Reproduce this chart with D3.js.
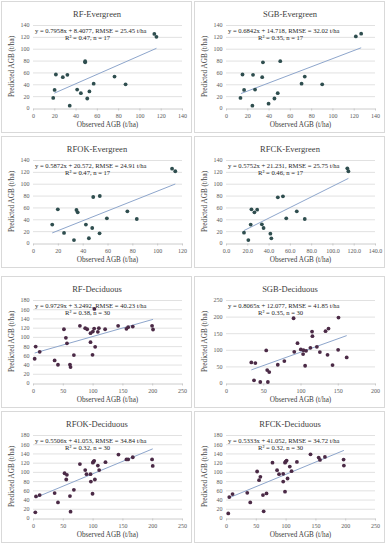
<!DOCTYPE html>
<html><head><meta charset="utf-8">
<script src="https://cdn.jsdelivr.net/npm/d3@7"></script>
<style>body{margin:0;background:#fff}svg{display:block}</style></head>
<body><svg id="c" width="387" height="550"></svg>
<script>
// ---------- data ----------
const titles = ["RF-Evergreen","SGB-Evergreen","RFOK-Evergreen","RFCK-Evergreen",
                "RF-Deciduous","SGB-Deciduous","RFOK-Deciduous","RFCK-Deciduous"];
const equations = [
  "y = 0.7958x + 8.4077, RMSE = 25.45 t/ha",
  "y = 0.6842x + 14.718, RMSE = 32.02 t/ha",
  "y = 0.5872x + 20.572, RMSE = 24.91 t/ha",
  "y = 0.5752x + 21.231, RMSE = 25.75 t/ha",
  "y = 0.9729x + 3.2492, RMSE = 40.23 t/ha",
  "y = 0.8065x + 12.077, RMSE = 41.85 t/ha",
  "y = 0.5506x + 41.053, RMSE = 34.84 t/ha",
  "y = 0.5333x + 41.052, RMSE = 34.72 t/ha"];
const r2Texts = ["R² = 0.47, n = 17","R² = 0.35, n = 17","R² = 0.47, n = 17","R² = 0.46, n = 17",
                 "R² = 0.38, n = 30","R² = 0.35, n = 30","R² = 0.32, n = 30","R² = 0.32, n = 30"];
const xTicks = [
  [0,20,40,60,80,100,120,140],[0,20,40,60,80,100,120,140],[0,20,40,60,80,100,120],
  [0,20,40,60,80,100,120,140],[0,50,100,150,200,250],[0,50,100,150,200],
  [0,50,100,150,200,250],[0,50,100,150,200,250]];
const yTicks = [
  [0,20,40,60,80,100,120,140],[0,20,40,60,80,100,120,140],[0,20,40,60,80,100,120,140],
  [0,20,40,60,80,100,120,140],[0,20,40,60,80,100,120,140,160,180],[0,50,100,150,200,250],
  [0,20,40,60,80,100,120,140,160,180],[0,20,40,60,80,100,120,140,160,180]];
const xDecimals = [0,0,0,1,0,0,0,0];

const rfEvergreen = [[114,125],[116,120],[49,79],[49,77],[21.5,56.5],[32.3,56],[28,52],[20.3,30.5],
  [19,17],[34.5,4],[41.5,31],[45,25],[53,28],[51,16],[57,41],[76.6,53],[87,40]];
const sgbEvergreen = [[122,120.8],[127,125.3],[51,79],[34.7,77],[15.5,56.5],[25.4,56],[34,52],[17,30.5],
  [27.3,31],[13.6,17],[24.8,4],[40,7.3],[45.5,16],[48.6,25],[71,41],[74,53],[90.4,40]];
const rfokEvergreen = [[112,125.4],[114.6,121],[48.5,77.6],[53.8,79.3],[20,56.8],[35,55.7],[36,51.7],
  [15.5,31],[42.6,31],[25,17],[33,5],[45,8],[47.7,25.3],[53.6,16.3],[59.5,41.6],[76,53.4],[83.6,40.5]];
const rfckEvergreen = [[114,126],[115,121],[48.7,77],[53.5,78.7],[23.9,56.8],[26.7,51.7],[29.3,56.2],
  [23.2,31],[16.9,17.4],[21,5],[33.7,31.5],[35.3,25.3],[41.7,15.7],[42.6,7.9],[56.6,41.6],[66.5,53.4],[74,40.5]];
const rfDeciduous = [[4.5,79],[2.8,52.6],[11.2,67.7],[51.9,116.6],[55.2,98],[57,86],[36.3,49],[41.9,39.6],
  [62,40],[63,34.6],[68.6,60.5],[78.7,124],[87.6,119],[90.9,116.6],[96.5,108],[100.4,111.6],[102.6,118],
  [110.5,119],[108.8,111],[103,160.6],[96.5,88.6],[99.9,61],[104.3,78.5],[121,116.6],[142.8,124],
  [156.8,117.4],[159.6,121],[167.4,122.4],[199.8,124],[201.4,116]];
const sgbDeciduous = [[34,62],[39.4,60],[37.6,8],[46,3],[56.2,3],[54,98],[55.3,39],[58,33],[69.5,55],
  [78.3,66],[90.7,195],[91.6,94],[96,120],[100.4,101],[103.5,87],[107.5,97],[106.2,52],[113.3,106],
  [115.5,155],[116,141],[122,109],[126,93],[133.6,156],[137.6,164],[136.3,85],[143,54],[151,197],
  [150.5,100],[162,77],[104,99]];
const rfokDeciduous = [[3.9,12.2],[5,46.8],[11.2,49.7],[36.3,54],[41.9,33.8],[53,97],[56.9,93.6],[55.8,83.5],
  [62,47.5],[63,13.7],[68.6,61],[78.7,117],[87.6,104],[89.8,95],[96.5,95],[97.1,79],[100.4,120],[102.7,124],
  [99.9,52.6],[103.8,83.5],[108.8,113.8],[111,104],[121.6,121],[143.4,137.5],[156.8,127],[159.6,127],
  [167.4,131.8],[199.8,127],[200.9,113],[101.5,122]];
const rfckDeciduous = [[3.8,10],[5.5,45.4],[11,51.8],[35.7,54.7],[40.7,33.8],[52.2,100.8],[55.5,82],[57.7,89.3],
  [62,49.7],[68,53.3],[63.2,14.4],[78,120],[85.7,103.7],[89,95],[96,95.8],[96,79],[99,57],[99,120],
  [101.7,124.6],[103.3,85.7],[107,111.6],[110,101.5],[119,121.7],[141.8,138],[155.5,131],[157.7,126],
  [166,132.5],[197.3,126.7],[197.8,113.8],[100,122]];
const points = [rfEvergreen, sgbEvergreen, rfokEvergreen, rfckEvergreen,
                rfDeciduous, sgbDeciduous, rfokDeciduous, rfckDeciduous];
// trend line end points as drawn in the figure
const trendLines = [
  [[20,25],[116,100.7]],[[14,24.3],[127,101.6]],[[15.5,17],[114.6,99.5]],[[16.9,21],[115,109]],
  [[2.8,65],[201.4,138]],[[34,39.5],[162,142.7]],[[3.9,44],[200.9,150]],[[3.8,43.1],[197.8,146.6]]];

// ---------- drawing ----------
const svg = d3.select("#c");
const colX = [0,193], rowY = [0,135,275,410];
const serif = "'Liberation Serif','DejaVu Serif',serif";
const dotColors = ["#2f4e4f","#4b2a46"];

titles.forEach((t,i)=>{
  const col = i%2, row = Math.floor(i/2);
  const g = svg.append("g").attr("transform",`translate(${colX[col]},${rowY[row]})`);
  g.append("rect").attr("x",1.5).attr("y",1.5).attr("width",190).attr("height",row===1||row===3?131:131)
    .attr("fill","#fff").attr("stroke","#d9d9d9").attr("stroke-width",1);
  const left = 33, right = 182, top = 25, bottom = 108;
  const xs = d3.scaleLinear().domain([0,d3.max(xTicks[i])]).range([left,right]);
  const ys = d3.scaleLinear().domain([0,d3.max(yTicks[i])]).range([bottom,top]);
  // gridlines
  g.append("g").selectAll("line").data(yTicks[i].slice(1)).join("line")
    .attr("x1",left).attr("x2",right).attr("y1",d=>ys(d)+0.5).attr("y2",d=>ys(d)+0.5)
    .attr("stroke","#d9d9d9").attr("stroke-width",0.8);
  // axes
  const xa = g.append("g").attr("transform",`translate(0,${bottom+0.5})`)
    .call(d3.axisBottom(xs).tickValues(xTicks[i]).tickSize(2).tickSizeOuter(0)
      .tickFormat(d=>d3.format("."+xDecimals[i]+"f")(d)));
  const ya = g.append("g").attr("transform",`translate(${left+0.5},0)`)
    .call(d3.axisLeft(ys).tickValues(yTicks[i]).tickSize(0).tickSizeOuter(0).tickPadding(4));
  [xa,ya].forEach(a=>{
    a.selectAll("path,line").attr("stroke","#bfbfbf").attr("stroke-width",0.8);
    a.selectAll("text").attr("font-family",serif).attr("font-size",6).attr("fill","#595959");
  });
  ya.select("path").remove();
  // trend
  const tl = trendLines[i];
  g.append("line").attr("x1",xs(tl[0][0])).attr("y1",ys(tl[0][1]))
    .attr("x2",xs(tl[1][0])).attr("y2",ys(tl[1][1]))
    .attr("stroke","#8ea6cc").attr("stroke-width",1);
  // points
  g.append("g").selectAll("circle").data(points[i]).join("circle")
    .attr("cx",d=>xs(d[0])).attr("cy",d=>ys(d[1])).attr("r",1.9)
    .attr("fill",dotColors[row<2?0:1]);
  // texts
  g.append("text").attr("x",97).attr("y",17).attr("text-anchor","middle")
    .attr("font-family",serif).attr("font-size",8.5).attr("fill","#404040").text(t);
  g.append("text").attr("x",left+2).attr("y",32.5).attr("font-family",serif).attr("font-size",6.6)
    .attr("fill","#262626").text(equations[i]);
  g.append("text").attr("x",left+32).attr("y",40).attr("font-family",serif).attr("font-size",6.6)
    .attr("fill","#262626").text(r2Texts[i]);
  g.append("text").attr("x",(left+right)/2).attr("y",127).attr("text-anchor","middle")
    .attr("font-family",serif).attr("font-size",7.2).attr("fill","#404040").text("Observed AGB (t/ha)");
  g.append("text").attr("transform",`translate(14,${(top+bottom)/2}) rotate(-90)`)
    .attr("text-anchor","middle").attr("font-family",serif).attr("font-size",7.2)
    .attr("fill","#404040").text("Predicted AGB (t/ha)");
});
</script></body></html>
